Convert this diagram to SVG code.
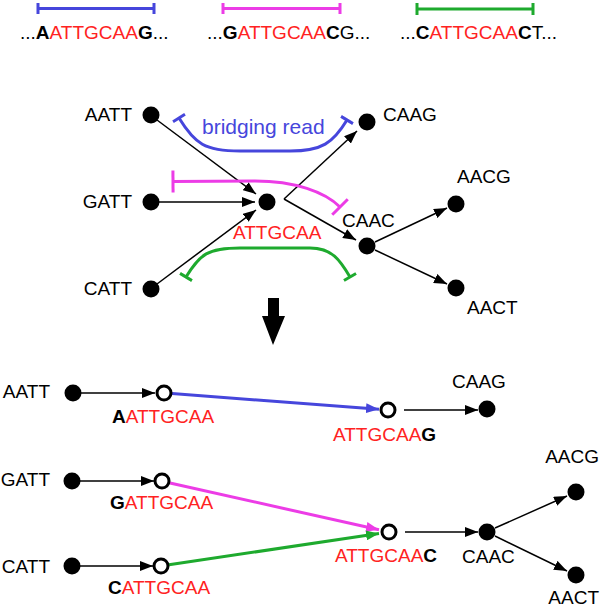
<svg xmlns="http://www.w3.org/2000/svg" width="600" height="609" viewBox="0 0 600 609">
<style>
text{font-family:"Liberation Sans",Arial,sans-serif;font-size:19px;fill:#000}
.r{fill:#ff2222}
.b{font-weight:bold}
.dot{fill:#000}
.open{fill:#fff;stroke:#000;stroke-width:3}
.e{stroke:#000;stroke-width:1.5;fill:none;marker-end:url(#ak)}
.cb{stroke:#4646dc;stroke-width:3;fill:none}
.cm{stroke:#ec3ce6;stroke-width:3;fill:none}
.cg{stroke:#1eaa2e;stroke-width:3;fill:none}
</style>
<defs>
<marker id="ak" markerUnits="userSpaceOnUse" markerWidth="13" markerHeight="10" refX="13" refY="5" orient="auto" viewBox="0 0 13 10"><path d="M0,0 L13,5 L0,10 z" fill="#000"/></marker>
<marker id="abl" markerUnits="userSpaceOnUse" markerWidth="13" markerHeight="10" refX="13" refY="5" orient="auto" viewBox="0 0 13 10"><path d="M0,0 L13,5 L0,10 z" fill="#4646dc"/></marker>
<marker id="amg" markerUnits="userSpaceOnUse" markerWidth="13" markerHeight="10" refX="13" refY="5" orient="auto" viewBox="0 0 13 10"><path d="M0,0 L13,5 L0,10 z" fill="#ec3ce6"/></marker>
<marker id="agr" markerUnits="userSpaceOnUse" markerWidth="13" markerHeight="10" refX="13" refY="5" orient="auto" viewBox="0 0 13 10"><path d="M0,0 L13,5 L0,10 z" fill="#1eaa2e"/></marker>
<marker id="tb" markerUnits="userSpaceOnUse" markerWidth="4" markerHeight="16" refX="0" refY="0" orient="auto" viewBox="-2 -8 4 16"><path d="M0,-7 L0,7" stroke="#4646dc" stroke-width="3"/></marker>
<marker id="tm" markerUnits="userSpaceOnUse" markerWidth="4" markerHeight="24" refX="0" refY="0" orient="auto" viewBox="-2 -12 4 24"><path d="M0,-11 L0,11" stroke="#ec3ce6" stroke-width="3"/></marker>
<marker id="tg" markerUnits="userSpaceOnUse" markerWidth="4" markerHeight="16" refX="0" refY="0" orient="auto" viewBox="-2 -8 4 16"><path d="M0,-7 L0,7" stroke="#1eaa2e" stroke-width="3"/></marker>
</defs>

<!-- top reads -->
<g id="read-top-blue">
<path d="M38,3 V14 M38,8.5 H154 M154,3 V14" class="cb"/>
<text x="20" y="39">...<tspan class="b">A</tspan><tspan class="r">ATTGCAA</tspan><tspan class="b">G</tspan>...</text>
</g>
<g id="read-top-magenta">
<path d="M223,3 V14 M223,8.5 H340 M340,3 V14" class="cm"/>
<text x="207" y="39">...<tspan class="b">G</tspan><tspan class="r">ATTGCAA</tspan><tspan class="b">C</tspan>G...</text>
</g>
<g id="read-top-green">
<path d="M417,3 V15 M417,9 H533 M533,3 V15" class="cg"/>
<text x="400" y="39">...<tspan class="b">C</tspan><tspan class="r">ATTGCAA</tspan><tspan class="b">C</tspan>T...</text>
</g>

<!-- middle graph connectors -->
<g id="connectors-middle">
<path class="e" d="M157,120 L256,194"/>
<path class="e" d="M159,202 L255,202"/>
<path class="e" d="M157,284 L256,210"/>
<path class="e" d="M284,199 L357,131"/>
<path class="e" d="M284,199 L356,240"/>
<path class="e" d="M375,242 L447,208"/>
<path class="e" d="M375,250 L447,284"/>
<path class="cb" d="M179,118 C195,144 205,151 240,151 L290,151 C322,151 333,143 347,120" marker-start="url(#tb)" marker-end="url(#tb)"/>
<path class="cm" d="M173,181.5 L255,181 C295,181 325,192 340,207" marker-start="url(#tm)" marker-end="url(#tm)"/>
<path class="cg" d="M186,277 C200,254 208,248 240,248 L310,248 C332,248 340,260 350,277" marker-start="url(#tg)" marker-end="url(#tg)"/>
</g>
<text x="202" y="134" style="font-size:21px;fill:#4646dc">bridging read</text>

<!-- middle nodes -->
<g id="m-aatt"><circle class="dot" cx="151" cy="115" r="8.5"/><text x="132" y="121" text-anchor="end">AATT</text></g>
<g id="m-gatt"><circle class="dot" cx="151" cy="202" r="8.5"/><text x="132" y="208" text-anchor="end">GATT</text></g>
<g id="m-catt"><circle class="dot" cx="151" cy="289" r="8.5"/><text x="132" y="295" text-anchor="end">CATT</text></g>
<g id="m-center"><circle class="dot" cx="267" cy="202" r="8.5"/><text x="233" y="239" class="r">ATTGCAA</text></g>
<g id="m-caag"><circle class="dot" cx="367" cy="122" r="8.5"/><text x="383" y="121">CAAG</text></g>
<g id="m-caac"><circle class="dot" cx="367" cy="246" r="8.5"/><text x="342" y="227">CAAC</text></g>
<g id="m-aacg"><circle class="dot" cx="456" cy="204" r="8.5"/><text x="457" y="183">AACG</text></g>
<g id="m-aact"><circle class="dot" cx="456" cy="288" r="8.5"/><text x="467" y="314">AACT</text></g>

<!-- big arrow -->
<polygon id="big-arrow" points="268,298 279,298 279,316 285,316 273,345 262,316 268,316" fill="#000"/>

<!-- bottom connectors -->
<g id="connectors-bottom">
<path class="e" d="M81,393 L155,393"/>
<path class="e" d="M80,481 L154,481"/>
<path class="e" d="M80,566 L153,566"/>
<path class="e" d="M404,410 L478,410"/>
<path class="e" d="M405,532 L478,532"/>
<path class="e" d="M495,528 L567,496"/>
<path class="e" d="M495,536 L567,571"/>
<path d="M172,393.6 L379,409.2" stroke="#4646dc" stroke-width="3" fill="none" marker-end="url(#abl)"/>
<path d="M170,483 L379,529.8" stroke="#ec3ce6" stroke-width="3" fill="none" marker-end="url(#amg)"/>
<path d="M169,564.8 L379,533.5" stroke="#1eaa2e" stroke-width="3" fill="none" marker-end="url(#agr)"/>
</g>

<!-- bottom nodes -->
<g id="b-aatt"><circle class="dot" cx="73" cy="393" r="8.5"/><text x="50" y="398" text-anchor="end">AATT</text></g>
<g id="b-gatt"><circle class="dot" cx="72" cy="481" r="8.5"/><text x="50" y="486" text-anchor="end">GATT</text></g>
<g id="b-catt"><circle class="dot" cx="72" cy="566" r="8.5"/><text x="50" y="573" text-anchor="end">CATT</text></g>
<g id="b-aattgcaa"><circle class="open" cx="164" cy="393" r="7"/><text x="112" y="423"><tspan class="b">A</tspan><tspan class="r">ATTGCAA</tspan></text></g>
<g id="b-gattgcaa"><circle class="open" cx="162" cy="481" r="7"/><text x="110" y="509"><tspan class="b">G</tspan><tspan class="r">ATTGCAA</tspan></text></g>
<g id="b-cattgcaa"><circle class="open" cx="161" cy="566" r="7"/><text x="108" y="594"><tspan class="b">C</tspan><tspan class="r">ATTGCAA</tspan></text></g>
<g id="b-attgcaag"><circle class="open" cx="388" cy="410" r="7"/><text x="333" y="441"><tspan class="r">ATTGCAA</tspan><tspan class="b">G</tspan></text></g>
<g id="b-attgcaac"><circle class="open" cx="389" cy="532" r="7"/><text x="335" y="562"><tspan class="r">ATTGCAA</tspan><tspan class="b">C</tspan></text></g>
<g id="b-caag"><circle class="dot" cx="487" cy="409" r="8.5"/><text x="452" y="388">CAAG</text></g>
<g id="b-caac"><circle class="dot" cx="487" cy="532" r="8.5"/><text x="462" y="563">CAAC</text></g>
<g id="b-aacg"><circle class="dot" cx="576" cy="492" r="8.5"/><text x="599" y="463" text-anchor="end">AACG</text></g>
<g id="b-aact"><circle class="dot" cx="576" cy="575" r="8.5"/><text x="599" y="604" text-anchor="end">AACT</text></g>
</svg>
